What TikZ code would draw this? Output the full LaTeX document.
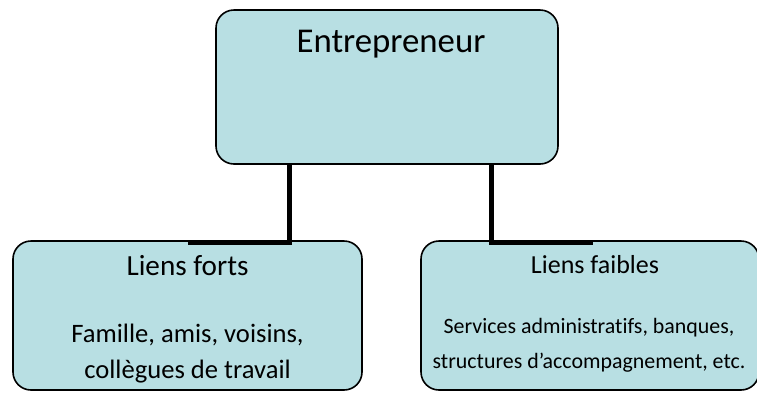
\documentclass[tikz,border=0pt]{standalone}
\usepackage{fontspec}
\setmainfont[Ligatures=NoCommon]{Carlito}
\definecolor{boxfill}{RGB}{184,223,227}
\begin{document}
\begin{tikzpicture}[x=1pt,y=-1pt,
  box/.style={draw=black,line width=1.6pt,fill=boxfill,rounded corners=18pt,
    inner sep=0pt,outer sep=0pt},
  conn/.style={draw=black,line width=4.6pt,line join=miter,line cap=butt},
  txt/.style={inner sep=0pt,anchor=base,text=black}]
\useasboundingbox (0,0) rectangle (757,392);
% boxes
\node[box,minimum width=342pt,minimum height=154pt] (top) at (387,87) {};
\node[box,minimum width=349pt,minimum height=149pt] (strong) at (187.5,315.5) {};
\node[box,minimum width=338pt,minimum height=149pt] (weak) at (590,315.5) {};
% connector positions
\coordinate (lx) at (289.5,0);
\coordinate (le) at (188,0);
\coordinate (rx) at (491.5,0);
\coordinate (re) at (593,0);
\draw[conn] (top.south -| lx) -- ([yshift=-1.5pt]strong.north -| lx) -- ([yshift=-1.5pt]strong.north -| le);
\draw[conn] (top.south -| rx) -- ([yshift=-1.5pt]weak.north -| rx) -- ([yshift=-1.5pt]weak.north -| re);
% texts
\node[txt,font=\fontsize{34.8}{36}\selectfont] (t0) at (391,52) {Entrepreneur};
\node[txt,font=\fontsize{29.2}{34}\selectfont] (t1) at (187.5,275) {Liens forts};
\node[txt,font=\fontsize{26.6}{34}\selectfont] (t2) at (187.5,342) {Famille, amis, voisins,};
\node[txt,font=\fontsize{26.6}{34}\selectfont] (t3) at (187.5,378) {collègues de travail};
\node[txt,font=\fontsize{26}{34}\selectfont] (t4) at (595,273) {Liens faibles};
\node[txt,font=\fontsize{21.9}{34}\selectfont] (t5) at (589,333) {Services administratifs, banques,};
\node[txt,font=\fontsize{21.9}{34}\selectfont] (t6) at (589,368) {structures d’accompagnement, etc.};
\end{tikzpicture}
\end{document}
